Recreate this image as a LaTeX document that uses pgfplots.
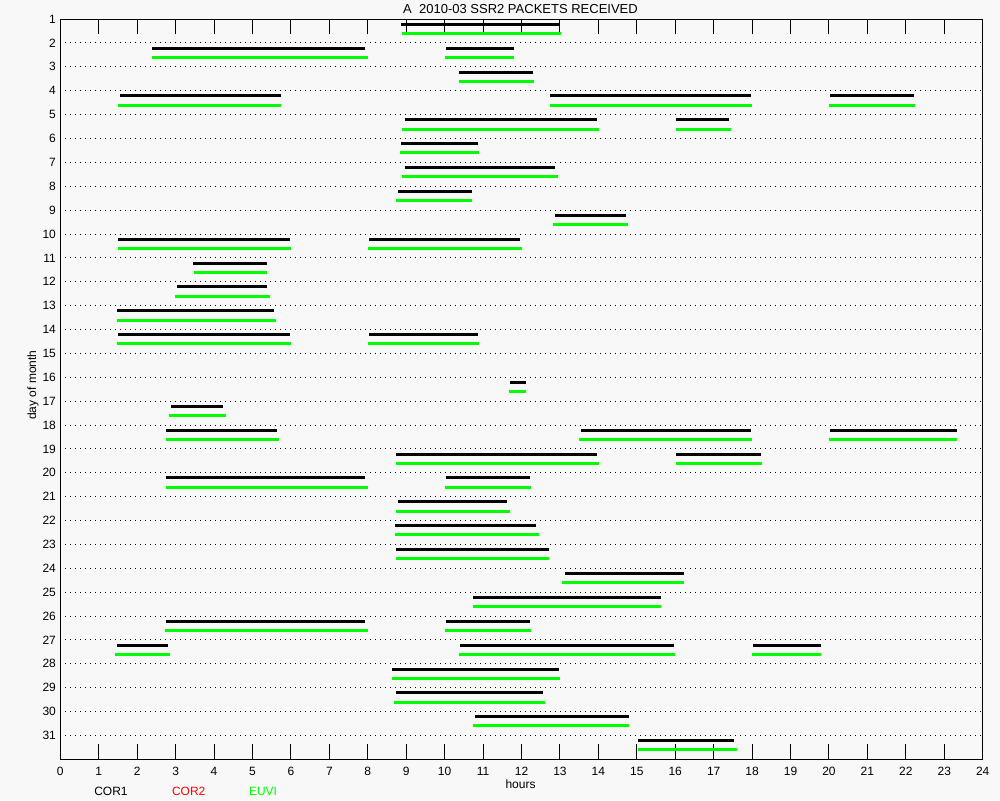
\documentclass[border=0pt]{standalone}
\usepackage{pgfplots}
\pgfplotsset{compat=1.18}
\usepackage{fontspec}
\setmainfont{Liberation Sans}
\definecolor{bg}{RGB}{248,248,248}
\definecolor{euvi}{RGB}{0,255,0}
\definecolor{cortwo}{RGB}{255,0,0}
\begin{document}
\begin{tikzpicture}
\fill[bg] (0,0) rectangle (500pt,400pt);
\useasboundingbox (0,0) rectangle (500pt,400pt);
\begin{axis}[
  at={(30.15pt,20.35pt)}, anchor=south west,
  scale only axis, width=461.2pt, height=370.1pt,
  xmin=0, xmax=24, ymin=1, ymax=32, y dir=reverse,
  xtick={0,...,24}, ytick={1,...,31},
  major tick length=7.5pt,
  xtick style={black, line width=0.5pt},
  ytick style={draw=none},
  ymajorgrids,
  grid style={black, line width=0.5pt, dash pattern=on 0.5pt off 2pt},
  axis line style={line width=0.6pt},
  tick label style={font=\fontsize{6}{7}\selectfont},
  /pgf/number format/assume math mode=true,
  yticklabel style={inner sep=1pt, xshift=-1pt},
  xticklabel style={yshift=-0.5pt},
  unbounded coords=jump,
  axis background/.style={fill=bg},
]
\addplot[black, line width=1.5pt, yshift=-2.6pt] coordinates {
(8.86,1) (12.98,1) (nan,nan)
(2.39,2) (7.94,2) (nan,nan) (10.03,2) (11.80,2) (nan,nan)
(10.37,3) (12.30,3) (nan,nan)
(1.55,4) (5.73,4) (nan,nan) (12.74,4) (17.97,4) (nan,nan) (20.03,4) (22.21,4) (nan,nan)
(8.97,5) (13.96,5) (nan,nan) (16.02,5) (17.40,5) (nan,nan)
(8.86,6) (10.86,6) (nan,nan)
(8.97,7) (12.87,7) (nan,nan)
(8.79,8) (10.71,8) (nan,nan)
(12.87,9) (14.72,9) (nan,nan)
(1.50,10) (5.98,10) (nan,nan) (8.03,10) (11.96,10) (nan,nan)
(3.45,11) (5.37,11) (nan,nan)
(3.03,12) (5.37,12) (nan,nan)
(1.47,13) (5.55,13) (nan,nan)
(1.50,14) (5.97,14) (nan,nan) (8.03,14) (10.86,14) (nan,nan)
(11.70,16) (12.12,16) (nan,nan)
(2.88,17) (4.23,17) (nan,nan)
(2.75,18) (5.63,18) (nan,nan) (13.55,18) (17.97,18) (nan,nan) (20.03,18) (23.33,18) (nan,nan)
(8.73,19) (13.96,19) (nan,nan) (16.02,19) (18.23,19) (nan,nan)
(2.75,20) (7.94,20) (nan,nan) (10.03,20) (12.22,20) (nan,nan)
(8.79,21) (11.61,21) (nan,nan)
(8.71,22) (12.38,22) (nan,nan)
(8.73,23) (12.71,23) (nan,nan)
(13.13,24) (16.23,24) (nan,nan)
(10.74,25) (15.63,25) (nan,nan)
(2.75,26) (7.94,26) (nan,nan) (10.03,26) (12.22,26) (nan,nan)
(1.47,27) (2.80,27) (nan,nan) (10.40,27) (15.97,27) (nan,nan) (18.02,27) (19.79,27) (nan,nan)
(8.63,28) (12.97,28) (nan,nan)
(8.73,29) (12.56,29) (nan,nan)
(10.79,30) (14.80,30) (nan,nan)
(15.03,31) (17.53,31)
};
\addplot[euvi, line width=1.5pt, yshift=-7.2pt] coordinates {
(8.89,1) (13.03,1) (nan,nan)
(2.39,2) (8.00,2) (nan,nan) (10.01,2) (11.80,2) (nan,nan)
(10.37,3) (12.32,3) (nan,nan)
(1.50,4) (5.73,4) (nan,nan) (12.74,4) (18.00,4) (nan,nan) (20.00,4) (22.24,4) (nan,nan)
(8.89,5) (14.01,5) (nan,nan) (16.02,5) (17.45,5) (nan,nan)
(8.84,6) (10.89,6) (nan,nan)
(8.89,7) (12.95,7) (nan,nan)
(8.73,8) (10.71,8) (nan,nan)
(12.82,9) (14.77,9) (nan,nan)
(1.50,10) (6.00,10) (nan,nan) (8.00,10) (12.01,10) (nan,nan)
(3.48,11) (5.37,11) (nan,nan)
(2.98,12) (5.45,12) (nan,nan)
(1.47,13) (5.60,13) (nan,nan)
(1.47,14) (6.00,14) (nan,nan) (8.00,14) (10.89,14) (nan,nan)
(11.67,16) (12.12,16) (nan,nan)
(2.83,17) (4.30,17) (nan,nan)
(2.75,18) (5.69,18) (nan,nan) (13.50,18) (18.00,18) (nan,nan) (20.00,18) (23.33,18) (nan,nan)
(8.73,19) (14.01,19) (nan,nan) (16.02,19) (18.26,19) (nan,nan)
(2.75,20) (8.00,20) (nan,nan) (10.01,20) (12.25,20) (nan,nan)
(8.73,21) (11.70,21) (nan,nan)
(8.71,22) (12.45,22) (nan,nan)
(8.73,23) (12.71,23) (nan,nan)
(13.05,24) (16.23,24) (nan,nan)
(10.74,25) (15.63,25) (nan,nan)
(2.72,26) (8.00,26) (nan,nan) (10.01,26) (12.25,26) (nan,nan)
(1.42,27) (2.85,27) (nan,nan) (10.37,27) (16.00,27) (nan,nan) (18.00,27) (19.79,27) (nan,nan)
(8.63,28) (13.00,28) (nan,nan)
(8.68,29) (12.61,29) (nan,nan)
(10.74,30) (14.80,30) (nan,nan)
(15.03,31) (17.61,31)
};
\end{axis}
\node[font=\fontsize{6.5}{7.5}\selectfont] at (260.25pt,395.35pt) {A\ \ 2010-03 SSR2 PACKETS RECEIVED};
\node[font=\fontsize{6}{7}\selectfont, rotate=90] at (16.5pt,207.5pt) {day of month};
\node[font=\fontsize{6}{7}\selectfont] at (260.25pt,8pt) {hours};
\node[font=\fontsize{6}{7}\selectfont] at (55.5pt,4.15pt) {COR1};
\node[font=\fontsize{6}{7}\selectfont, text=cortwo] at (94.35pt,4.15pt) {COR2};
\node[font=\fontsize{6}{7}\selectfont, text=euvi] at (131.5pt,4.15pt) {EUVI};
\end{tikzpicture}
\end{document}
